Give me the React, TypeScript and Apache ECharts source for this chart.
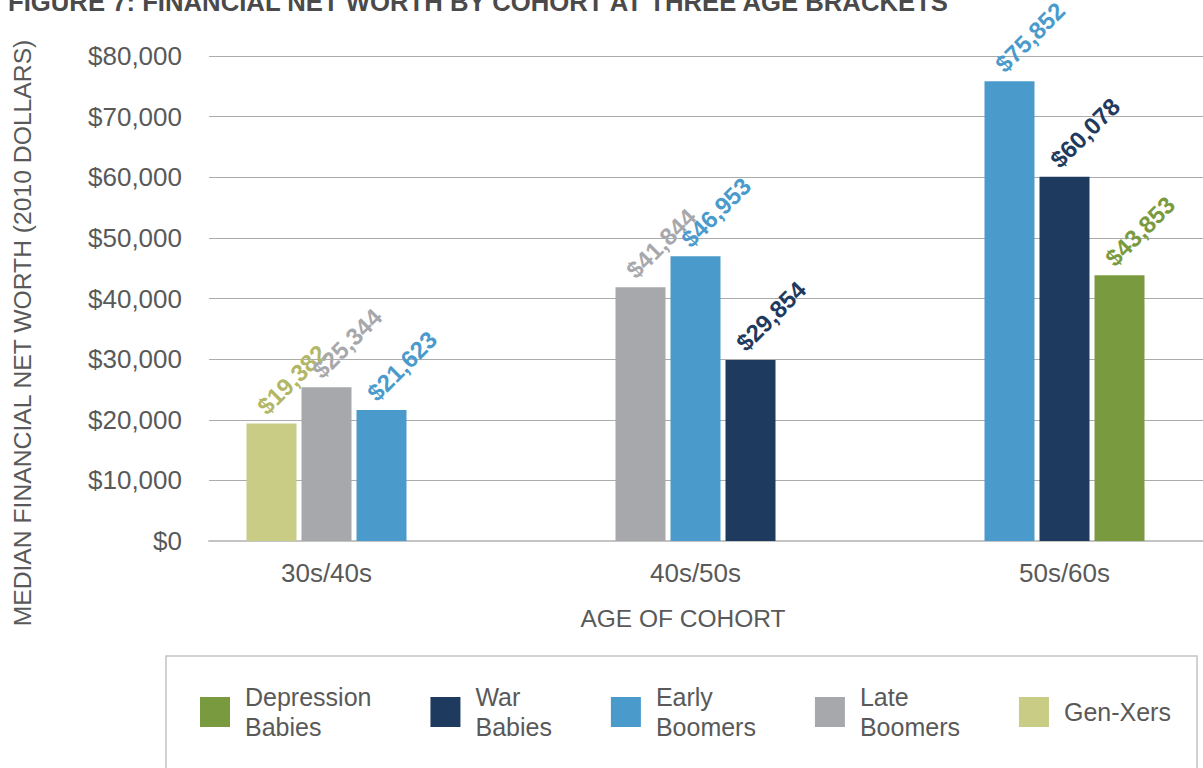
import React, { useEffect, useRef } from "react";
import * as echarts from "echarts";

const categories = ["30s/40s", "40s/50s", "50s/60s"];
const cohorts = ["Depression Babies", "War Babies", "Early Boomers", "Late Boomers", "Gen-Xers"];

// Bars inside each age bracket, left to right
const firstBarCohort = ["Gen-Xers", "Late Boomers", "Early Boomers"];
const firstBarValues = [19382, 41844, 75852];
const secondBarCohort = ["Late Boomers", "Early Boomers", "War Babies"];
const secondBarValues = [25344, 46953, 60078];
const thirdBarCohort = ["Early Boomers", "War Babies", "Depression Babies"];
const thirdBarValues = [21623, 29854, 43853];

const yMin = 0;
const yMax = 80000;
const yStep = 10000;

const title = "FIGURE 7: FINANCIAL NET WORTH BY COHORT AT THREE AGE BRACKETS";
const yTitle = "MEDIAN FINANCIAL NET WORTH (2010 DOLLARS)";
const xTitle = "AGE OF COHORT";

const barColor: Record<string, string> = {
  "Depression Babies": "#7a9a3f",
  "War Babies": "#1e3a5f",
  "Early Boomers": "#4a9bcc",
  "Late Boomers": "#a7a8ac",
  "Gen-Xers": "#c8cc85",
};
const labelColor: Record<string, string> = {
  "Depression Babies": "#7a9a3f",
  "War Babies": "#1e3a5f",
  "Early Boomers": "#4a9bcc",
  "Late Boomers": "#a7a8ac",
  "Gen-Xers": "#b2b766",
};

const FONT = "Liberation Sans, Arial, sans-serif";
const fmt = (v: number) => "$" + v.toLocaleString("en-US");

function barSeries(name: string, cohortsAt: string[], values: number[]) {
  return {
    name,
    type: "bar",
    xAxisIndex: 0,
    yAxisIndex: 0,
    barWidth: 50,
    barGap: "10%",
    data: values.map((v, i) => ({
      value: v,
      itemStyle: { color: barColor[cohortsAt[i]] },
      label: { color: labelColor[cohortsAt[i]] },
    })),
    label: {
      show: true,
      position: "top",
      rotate: 45,
      align: "center",
      verticalAlign: "middle",
      offset: [42, -13],
      fontFamily: FONT,
      fontWeight: "bold",
      fontSize: 24,
      formatter: (p: any) => fmt(p.value),
    },
  };
}

export default function App() {
  const ref = useRef<HTMLDivElement>(null);
  useEffect(() => {
    if (!ref.current) return;
    const chart = echarts.init(ref.current, undefined, { renderer: "svg" });
    const legendSeries = cohorts.map((c) => ({
      name: c,
      type: "line",
      xAxisIndex: 1,
      yAxisIndex: 1,
      data: [],
      itemStyle: { color: barColor[c] },
      lineStyle: { color: barColor[c] },
    }));
    chart.setOption({
      animation: false,
      backgroundColor: "#ffffff",
      grid: [
        { left: 142, width: 1107, top: 56, bottom: 227, outerBoundsMode: "none", containLabel: false },
        { left: 209, right: 0, top: 56, bottom: 227, outerBoundsMode: "none", containLabel: false },
      ],
      xAxis: [
        {
          gridIndex: 0,
          type: "category",
          data: categories,
          axisLine: { show: false },
          axisTick: { show: false },
          axisLabel: { fontFamily: FONT, fontSize: 26, color: "#595959", margin: 19 },
          splitLine: { show: false },
        },
        {
          gridIndex: 1,
          type: "category",
          data: [""],
          axisLine: { show: true, lineStyle: { color: "#c4c4c4", width: 2 } },
          axisTick: { show: false },
          axisLabel: { show: false },
          splitLine: { show: false },
        },
      ],
      yAxis: [
        { gridIndex: 0, type: "value", min: yMin, max: yMax, interval: yStep, show: false },
        {
          gridIndex: 1,
          type: "value",
          min: yMin,
          max: yMax,
          interval: yStep,
          axisLine: { show: false },
          axisTick: { show: false },
          axisLabel: {
            fontFamily: FONT,
            fontSize: 26,
            color: "#595959",
            margin: 27,
            formatter: (v: number) => fmt(v),
          },
          splitLine: { show: true, lineStyle: { color: "#ababab", width: 1 } },
        },
      ],
      legend: {
        data: cohorts,
        left: 200,
        top: 682,
        padding: 0,
        icon: "rect",
        itemWidth: 30,
        itemHeight: 30,
        itemGap: 59,
        formatter: (n: string) => n.replace(" ", "\n"),
        textStyle: {
          fontFamily: FONT,
          fontSize: 25,
          lineHeight: 30,
          color: "#595959",
          padding: [0, 0, 0, 10],
        },
      },
      graphic: [
        {
          type: "rect",
          shape: { x: 166, y: 656, width: 1031, height: 140 },
          style: { fill: "none", stroke: "#c4c4c4", lineWidth: 1.5 },
          silent: true,
        },
        {
          type: "text",
          x: 8,
          y: 15,
          style: {
            text: title,
            fontFamily: FONT,
            fontWeight: "bold",
            fontSize: 25.7,
            fill: "#4a4a4a",
            align: "left",
            verticalAlign: "bottom",
          },
        },
        {
          type: "text",
          x: 22,
          y: 333,
          rotation: Math.PI / 2,
          style: {
            text: yTitle,
            fontFamily: FONT,
            fontSize: 24.7,
            fill: "#595959",
            align: "center",
            verticalAlign: "middle",
          },
        },
        {
          type: "text",
          x: 683,
          y: 618,
          style: {
            text: xTitle,
            fontFamily: FONT,
            fontSize: 24.5,
            fill: "#595959",
            align: "center",
            verticalAlign: "middle",
          },
        },
      ],
      series: [
        barSeries("first", firstBarCohort, firstBarValues),
        barSeries("second", secondBarCohort, secondBarValues),
        barSeries("third", thirdBarCohort, thirdBarValues),
        ...legendSeries,
      ],
    });
    return () => chart.dispose();
  }, []);
  return (
    <div
      ref={ref}
      style={{ position: "absolute", left: 0, top: 0, width: 1203, height: 768, overflow: "hidden" }}
    />
  );
}
